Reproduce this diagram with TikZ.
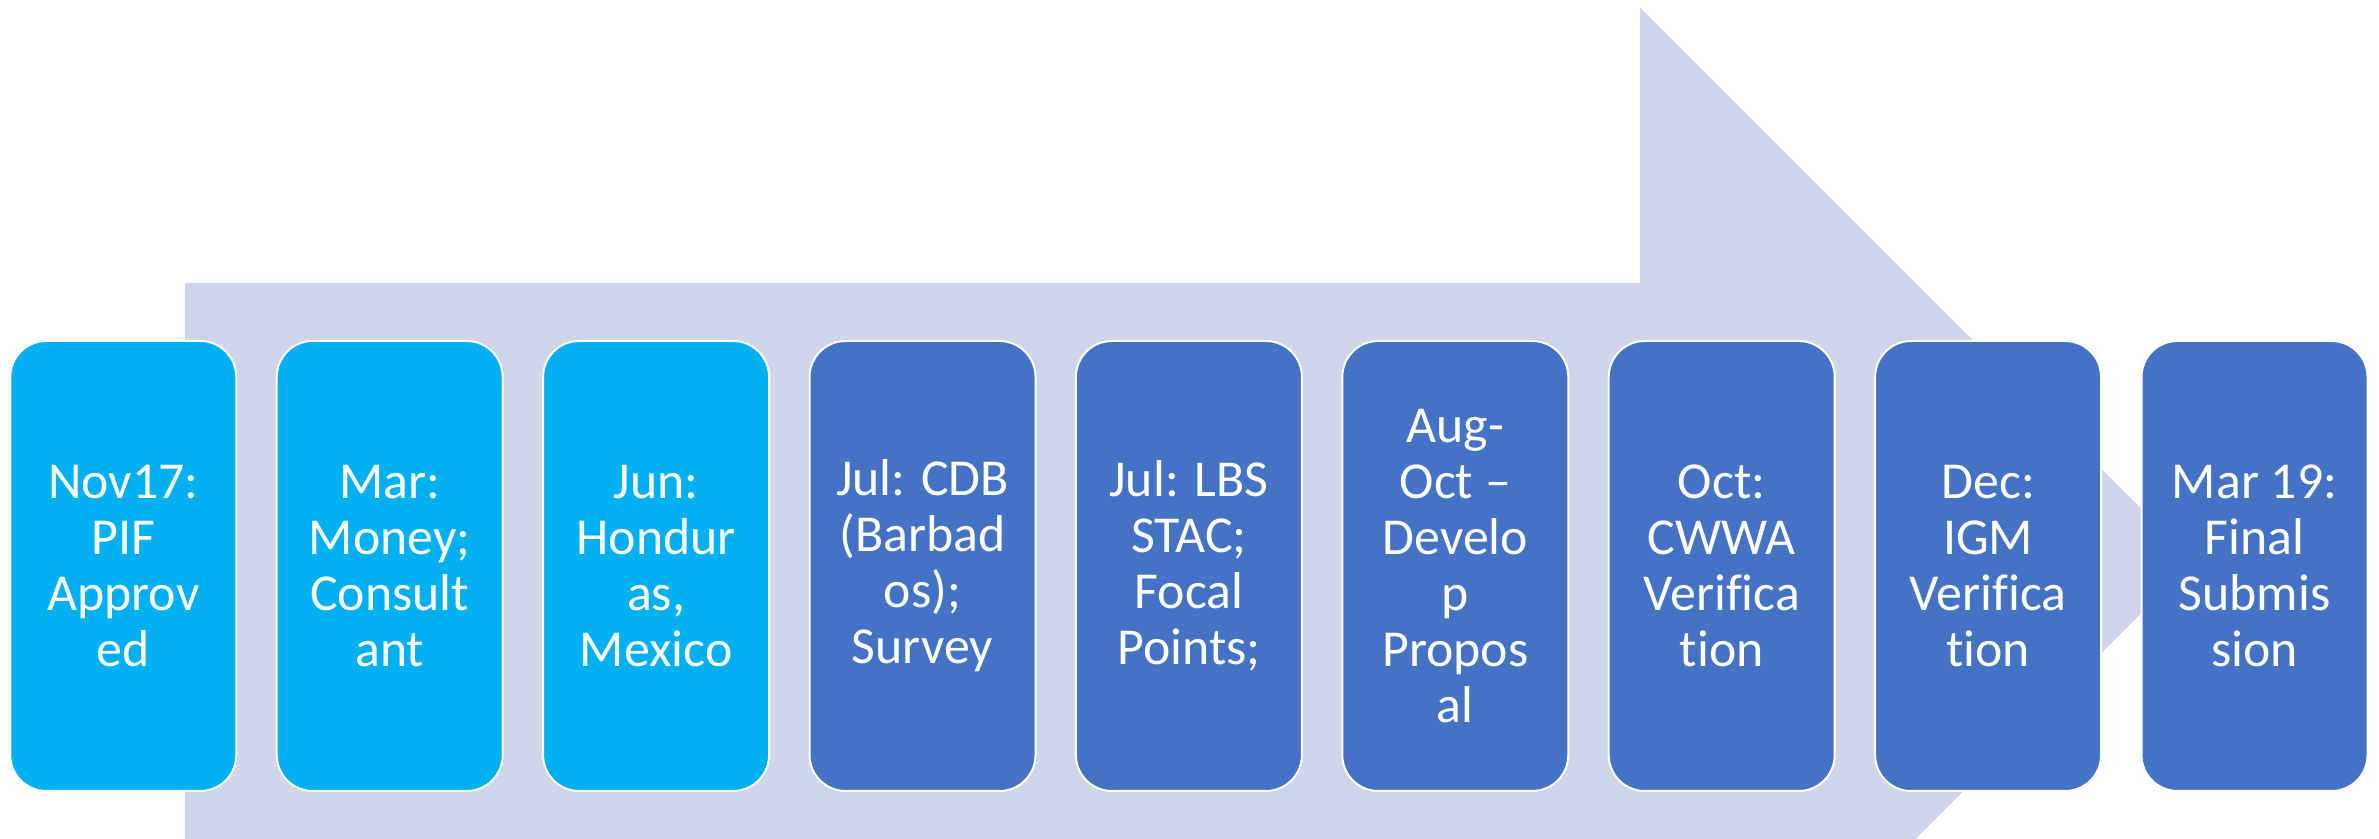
\documentclass[tikz,border=0pt]{standalone}
\usepackage{fontspec}
\setmainfont{Carlito}[Ligatures=NoCommon]
\definecolor{stagecyan}{HTML}{00B0F0}
\definecolor{stageblue}{HTML}{4472C4}
\definecolor{arrowback}{HTML}{CFD5EA}
\tikzset{
  stage/.style={draw=white, line width=0.04cm, rectangle, rounded corners=0.72cm,
    minimum width=4.52cm, minimum height=9cm, text=white, align=center,
    font=\fontsize{29.5}{31.8}\selectfont},
  donestage/.style={stage, fill=stagecyan},
  nextstage/.style={stage, fill=stageblue}
}
\begin{document}
\begin{tikzpicture}
				\clip (0, 0) rectangle (47.58, 16.78);
				% big arrow behind the stages
				\fill[arrowback] (3.70, 0) -- (3.70, 11.12) -- (32.8, 11.12) -- (32.8, 16.63) -- (43.87, 5.56) -- (32.8, -5.51) -- (32.8, 0) -- cycle;
				\node[donestage] (nov)at(2.466, 5.46) {Nov17:\\PIF\\Approv\\ed};
				\node[donestage] (mar)at(7.794, 5.46) {Mar:\\Money;\\Consult\\ant};
				\node[donestage] (jun)at(13.122, 5.46) {Jun:\\Hondur\\as,\\Mexico};
				\node[nextstage] (julcdb)at(18.45, 5.46) {Jul: CDB\\(Barbad\\os);\\Survey};
				\node[nextstage] (jullbs)at(23.778, 5.46) {Jul: LBS\\STAC;\\Focal\\Points;};
				\node[nextstage] (augoct)at(29.106, 5.46) {Aug-\\Oct --\\Develo\\p\\Propos\\al};
				\node[nextstage] (oct)at(34.434, 5.46) {Oct:\\CWWA\\Verifica\\tion};
				\node[nextstage] (dec)at(39.762, 5.46) {Dec:\\IGM\\Verifica\\tion};
				\node[nextstage] (marnine)at(45.09, 5.46) {Mar 19:\\Final\\Submis\\sion};
			\end{tikzpicture}
\end{document}
